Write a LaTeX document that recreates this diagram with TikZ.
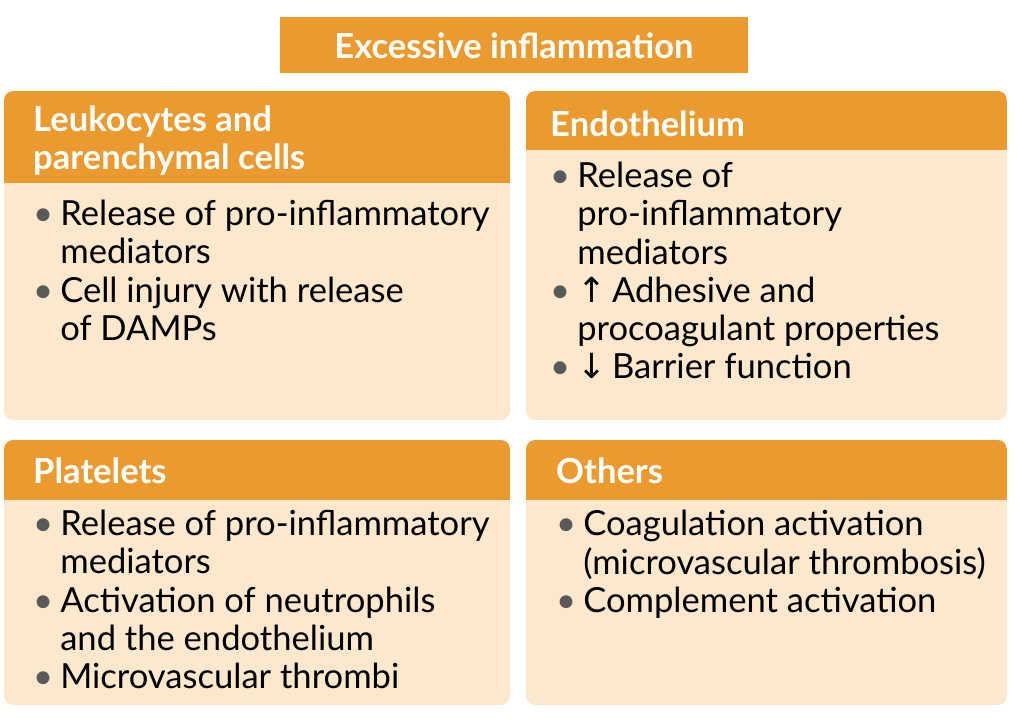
\documentclass[tikz,border=0pt]{standalone}
\usepackage{fontspec}
\setmainfont{Lato}
\usetikzlibrary{positioning}
\definecolor{hdorange}{HTML}{EA9A2E}
\definecolor{bodycream}{HTML}{FCE8CC}
\newcommand{\bl}{{\color{black!65}\textbullet}}
\tikzset{
  panel/.style={fill=bodycream, rounded corners=8pt},
  head/.style={fill=hdorange},
  headtext/.style={anchor=north west, text=white, font=\fontsize{29.5}{32.5}\selectfont\bfseries, align=left, inner sep=0pt},
  bodytext/.style={anchor=north west, font=\fontsize{29.5}{32.5}\selectfont, inner sep=0pt}
}
\begin{document}
\begin{tikzpicture}[x=0.03cm,y=-0.03cm]
\useasboundingbox (0,0) rectangle (1024,723);
% title
\fill[head] (280,17) rectangle (748,73);
\node[text=white, font=\fontsize{29.5}{32}\selectfont\bfseries] (title) at (514,46) {Excessive inflammation};

% panels
\fill[panel] (4,91) rectangle (510,420);
\fill[panel] (526,91) rectangle (1007,420);
\fill[panel] (4,440) rectangle (510,705);
\fill[panel] (526,440) rectangle (1007,705);
\begin{scope}
\clip[rounded corners=8pt] (4,91) rectangle (510,420);
\fill[head] (4,91) rectangle (510,183);
\end{scope}
\begin{scope}
\clip[rounded corners=8pt] (526,91) rectangle (1007,420);
\fill[head] (526,91) rectangle (1007,150);
\end{scope}
\begin{scope}
\clip[rounded corners=8pt] (4,440) rectangle (510,705);
\fill[head] (4,440) rectangle (510,500);
\end{scope}
\begin{scope}
\clip[rounded corners=8pt] (526,440) rectangle (1007,705);
\fill[head] (526,440) rectangle (1007,500);
\end{scope}

% headers
\node[headtext] (leuko) at (33,106) {Leukocytes and\\parenchymal cells};
\node[headtext] (endo) at (550,111) {Endothelium};
\node[headtext] (plat) at (33,458) {Platelets};
\node[headtext] (other) at (556,458) {Others};

% bodies
\node[bodytext] (leukobody) at (33,199) {\begin{tabular}{@{}l@{\hspace{6pt}}l@{}}
\bl & Release of pro-inflammatory\\
 & mediators\\
\bl & Cell injury with release\\
 & of DAMPs
\end{tabular}};
\node[bodytext] (endobody) at (550,161) {\begin{tabular}{@{}l@{\hspace{6pt}}l@{}}
\bl & Release of\\
 & pro-inflammatory\\
 & mediators\\
\bl & {\fontspec{DejaVu Sans}\char"2191}\,Adhesive and\\
 & procoagulant properties\\
\bl & {\fontspec{DejaVu Sans}\char"2193}\,Barrier function
\end{tabular}};
\node[bodytext] (platbody) at (33,509) {\begin{tabular}{@{}l@{\hspace{6pt}}l@{}}
\bl & Release of pro-inflammatory\\
 & mediators\\
\bl & Activation of neutrophils\\
 & and the endothelium\\
\bl & Microvascular thrombi
\end{tabular}};
\node[bodytext] (otherbody) at (556,509) {\begin{tabular}{@{}l@{\hspace{6pt}}l@{}}
\bl & Coagulation activation\\
 & (microvascular thrombosis)\\
\bl & Complement activation
\end{tabular}};
\end{tikzpicture}
\end{document}
